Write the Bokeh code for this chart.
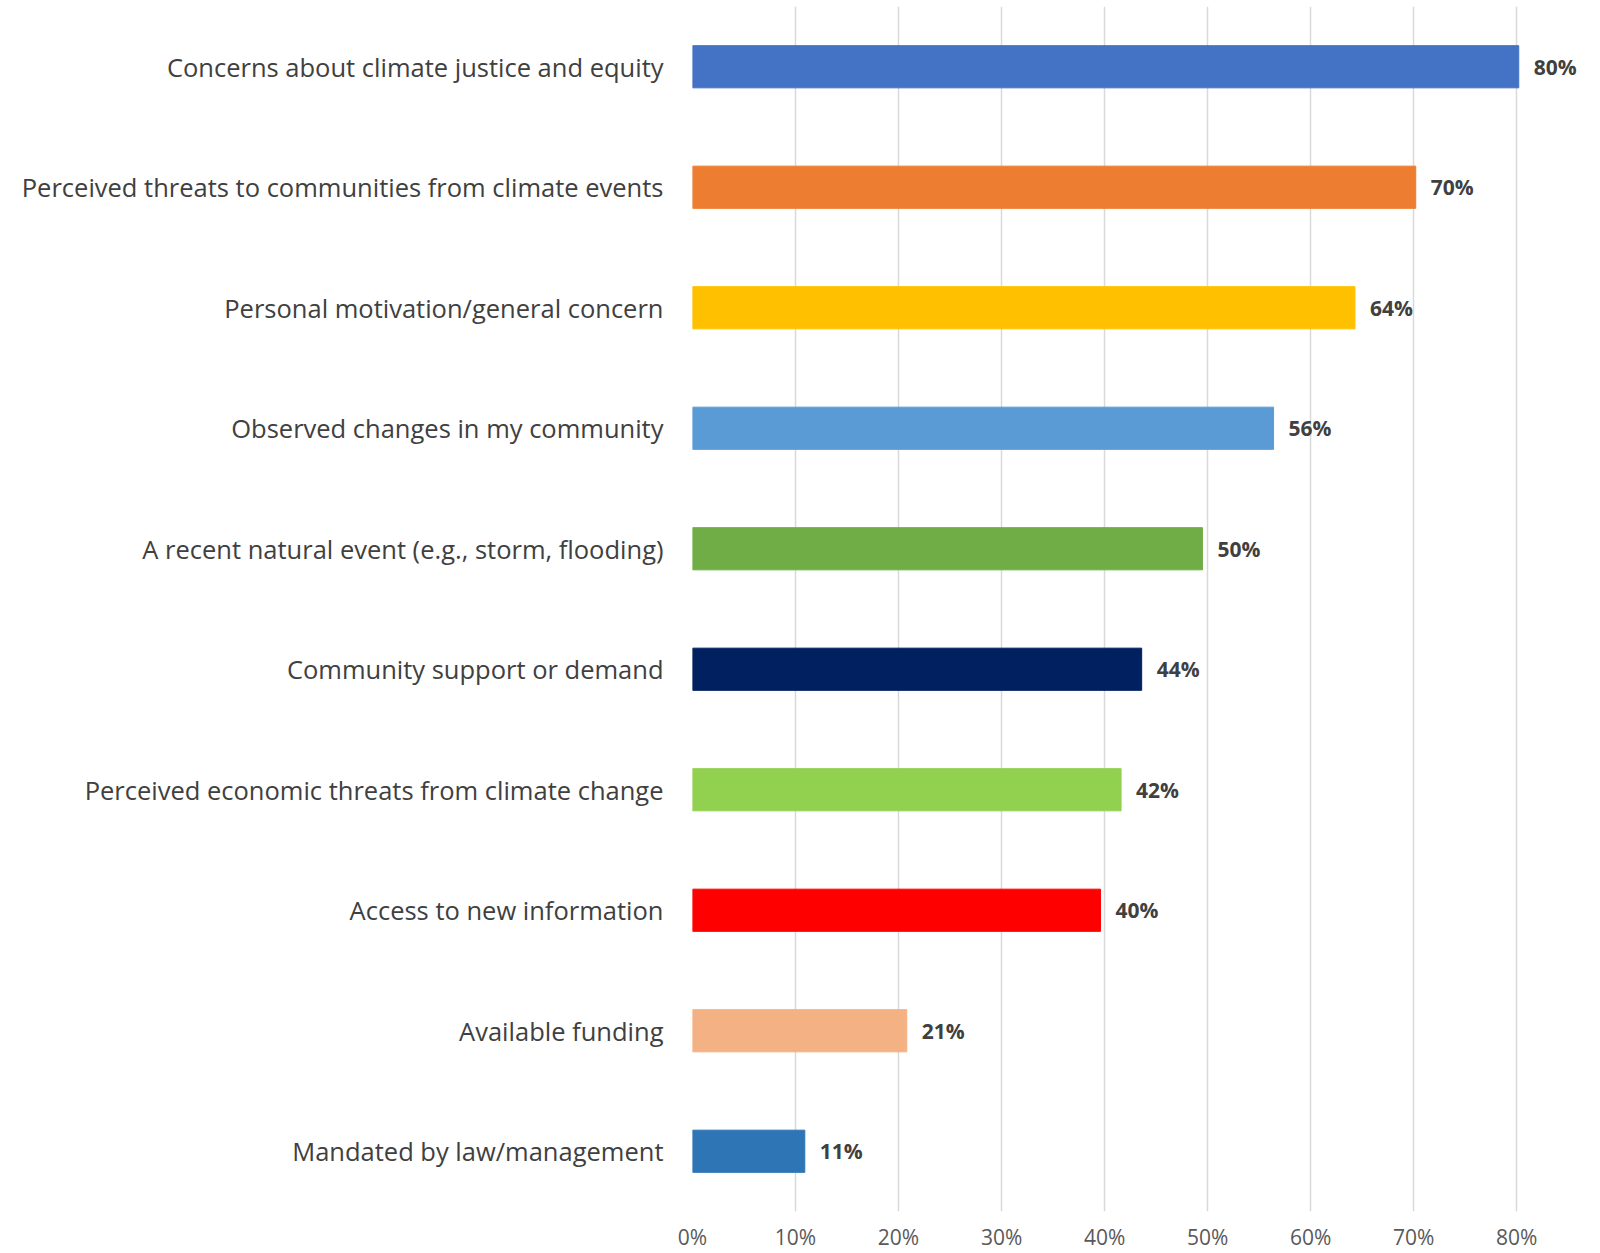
from bokeh.plotting import figure
from bokeh.models import ColumnDataSource, FixedTicker, PrintfTickFormatter, FactorRange, Range1d
from bokeh.core.properties import value
from bokeh.embed import file_html
from bokeh.resources import INLINE

categories = [
    "Concerns about climate justice and equity",
    "Perceived threats to communities from climate events",
    "Personal motivation/general concern",
    "Observed changes in my community",
    "A recent natural event (e.g., storm, flooding)",
    "Community support or demand",
    "Perceived economic threats from climate change",
    "Access to new information",
    "Available funding",
    "Mandated by law/management",
]
values = [80.2, 70.2, 64.3, 56.4, 49.5, 43.6, 41.6, 39.6, 20.8, 10.9]
labels = ["80%", "70%", "64%", "56%", "50%", "44%", "42%", "40%", "21%", "11%"]
colors = ["#4472C4", "#ED7D31", "#FFC000", "#5B9BD5", "#70AD47",
          "#002060", "#92D050", "#FF0000", "#F4B183", "#2E75B6"]
ticks = [0, 10, 20, 30, 40, 50, 60, 70, 80]

src = ColumnDataSource(dict(cat=categories, val=values, lab=labels, col=colors))

p = figure(width=1600, height=1253, output_backend="svg", toolbar_location=None,
           y_range=FactorRange(factors=list(reversed(categories)), range_padding=0),
           x_range=Range1d(0, 86),
           min_border_left=692, min_border_right=22, min_border_top=6, min_border_bottom=41)
p.outline_line_color = None
p.background_fill_color = "white"
p.border_fill_color = "white"

p.hbar(y="cat", right="val", left=0, height=0.35, color="col", source=src)
p.text(x="val", y="cat", text="lab", source=src, x_offset=15,
       text_align="left", text_baseline="middle",
       text_font=value("Open Sans"), text_font_style="bold",
       text_font_size="21px", text_color="#404040")

p.xaxis.ticker = FixedTicker(ticks=ticks)
p.xaxis.formatter = PrintfTickFormatter(format="%d%%")
p.xaxis.axis_line_color = None
p.xaxis.major_tick_line_color = None
p.xaxis.minor_tick_line_color = None
p.xaxis.major_tick_out = 0
p.xaxis.major_tick_in = 0
p.xaxis.minor_tick_out = 0
p.xaxis.major_label_text_font = "Open Sans"
p.xaxis.major_label_text_font_size = "21px"
p.xaxis.major_label_text_color = "#595959"
p.xaxis.major_label_standoff = 11

p.yaxis.axis_line_color = None
p.yaxis.major_tick_line_color = None
p.yaxis.minor_tick_line_color = None
p.yaxis.major_tick_out = 0
p.yaxis.major_tick_in = 0
p.yaxis.minor_tick_out = 0
p.yaxis.major_label_text_font = "Open Sans"
p.yaxis.major_label_text_font_size = "25.5px"
p.yaxis.major_label_text_color = "#404040"
p.yaxis.major_label_standoff = 29

p.xgrid.grid_line_color = "#D9D9D9"
p.xgrid.grid_line_width = 1.5
p.ygrid.grid_line_color = None

open("out.html", "w").write(file_html(p, INLINE))
